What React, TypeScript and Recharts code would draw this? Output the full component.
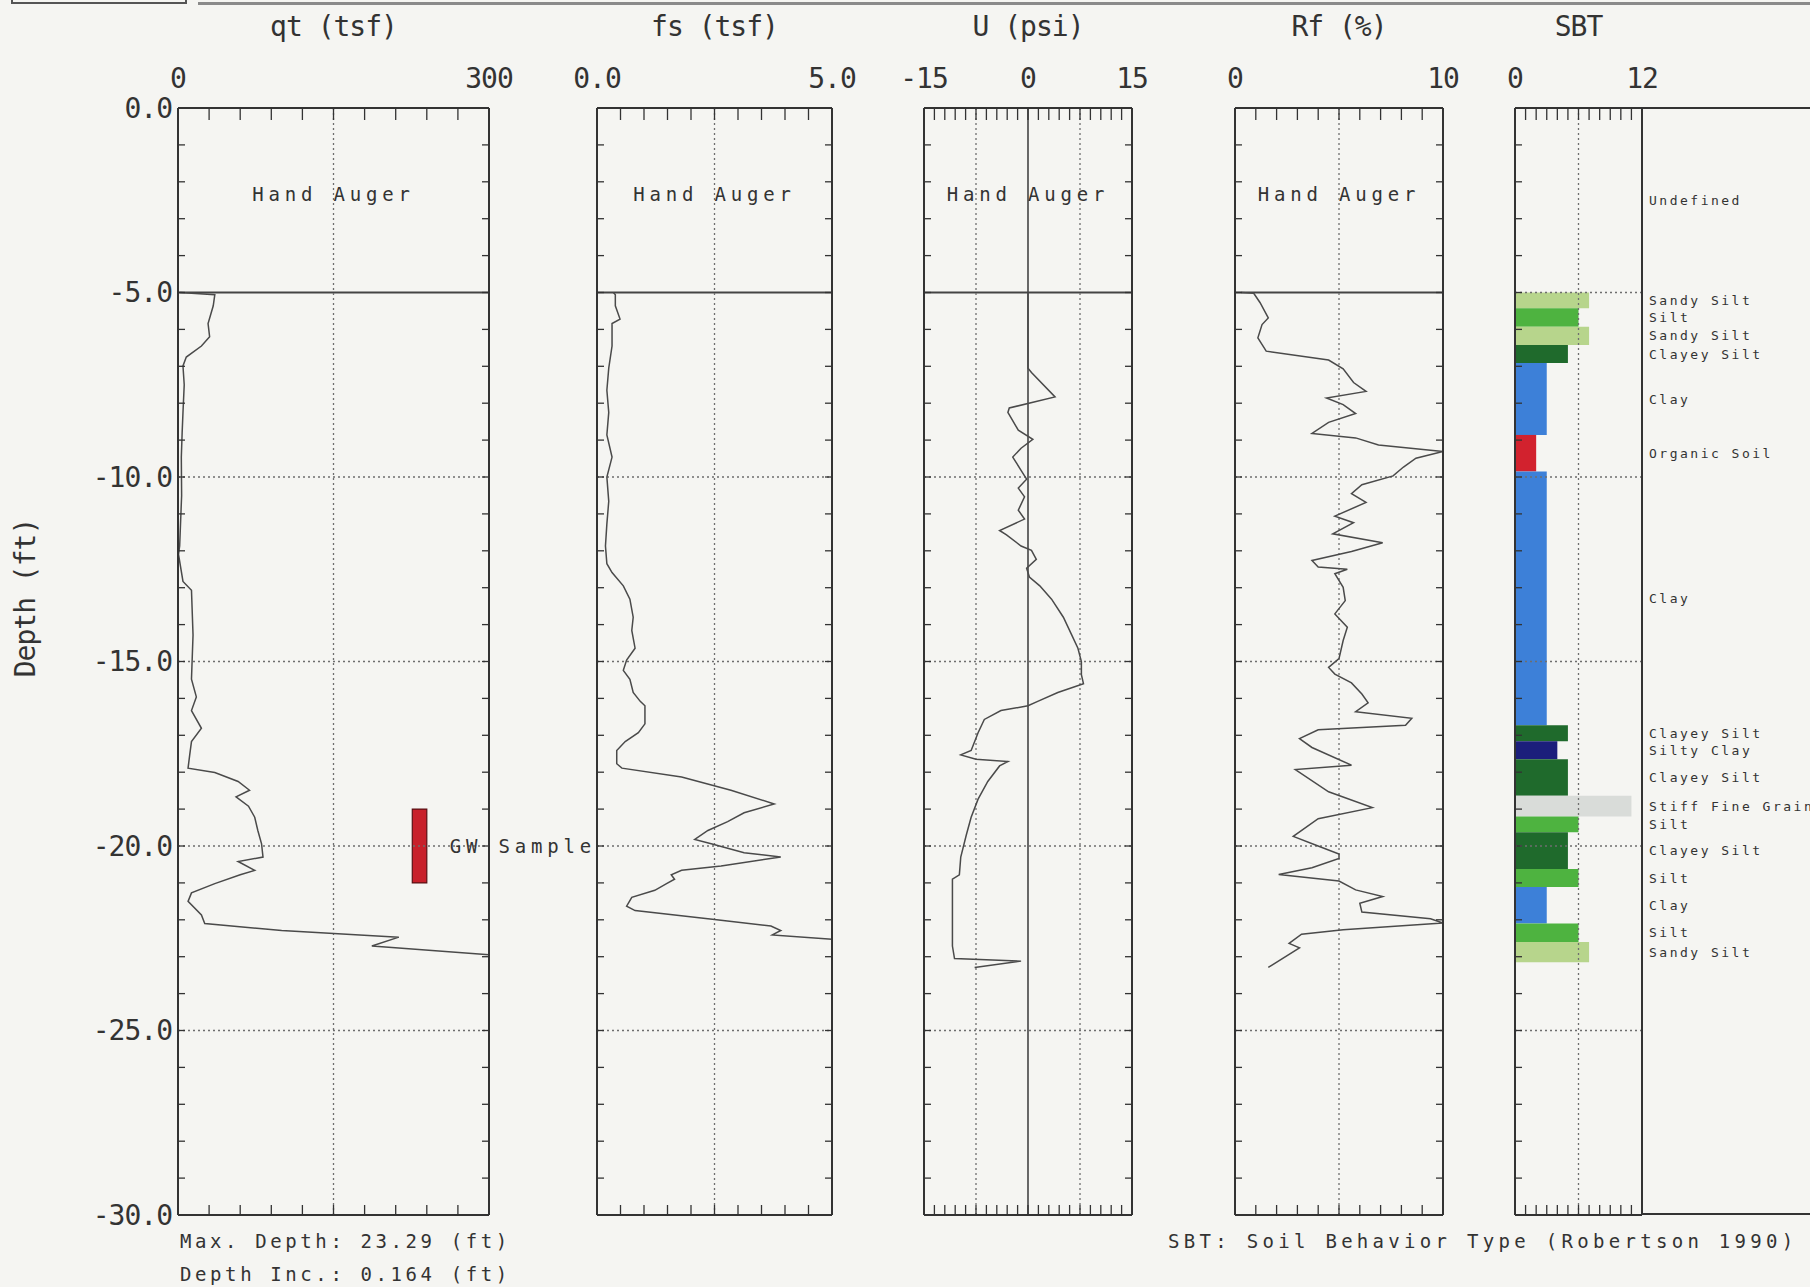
import React from 'react'
import { LineChart, Line, XAxis, YAxis, ReferenceLine, ReferenceArea } from 'recharts'

const FONT = '"DejaVu Sans Mono", "Liberation Mono", monospace'
const INK = '#333333'
const CURVE = '#4a4a4a'
const GRID = '#6e6e6e'
const PAPER = '#f5f5f2'

const CHART_H = 1240
const TOP_H = 108
const BOTTOM_H = 15
const BOTTOM_M = 10

// depth axis (ft), shared by all panels
const depthLabels = [0, -5, -10, -15, -20, -25, -30]
const depthGrid = [-10, -15, -20, -25]
const augerDepth = -5

// qt (tsf)
const qtDepth = [5.0, 5.06, 5.36, 5.84, 6.2, 6.45, 6.75, 6.99, 7.5, 8.25, 8.8, 9.46, 10.5, 11.87, 12.1, 12.83, 13.07, 14.28, 15.48, 15.96, 16.33, 16.81, 17.17, 17.53, 17.89, 18.01, 18.25, 18.49, 18.67, 18.92, 19.22, 19.58, 19.94, 20.3, 20.42, 20.66, 20.78, 21.02, 21.27, 21.5, 21.87, 22.1, 22.29, 22.47, 22.71, 22.95, 23.29]
const qtValue = [2, 35.5, 34, 29, 30.5, 22.6, 8, 4.8, 6, 4.8, 4, 3.2, 3.5, 1.6, 0.5, 4.8, 13, 14.5, 13, 17.7, 13, 22.6, 13, 11.3, 9.7, 35.5, 58, 69, 56, 68, 74, 77, 80.6, 82, 58, 74, 60, 35.5, 13, 9.7, 22.6, 25.8, 100, 213, 187, 300, 300]

// fs (tsf)
const fsDepth = [5.0, 5.06, 5.36, 5.72, 5.84, 6.45, 7.05, 7.65, 8.25, 8.86, 9.46, 10.0, 10.66, 11.27, 11.87, 12.35, 12.59, 12.95, 13.31, 13.8, 14.16, 14.64, 14.96, 15.24, 15.48, 15.84, 16.08, 16.2, 16.69, 16.93, 17.17, 17.41, 17.77, 17.89, 18.13, 18.49, 18.86, 19.1, 19.34, 19.58, 19.82, 19.94, 20.18, 20.3, 20.54, 20.66, 20.78, 20.9, 21.02, 21.2, 21.39, 21.63, 21.75, 21.99, 22.17, 22.29, 22.41, 22.53]
const fsValue = [0.35, 0.39, 0.39, 0.49, 0.32, 0.32, 0.25, 0.21, 0.25, 0.21, 0.32, 0.21, 0.25, 0.21, 0.18, 0.21, 0.32, 0.56, 0.7, 0.77, 0.74, 0.81, 0.63, 0.56, 0.7, 0.77, 0.92, 1.02, 1.02, 0.88, 0.6, 0.42, 0.42, 0.53, 1.8, 2.85, 3.77, 3.13, 2.78, 2.36, 2.08, 2.43, 3.13, 3.91, 2.64, 1.8, 1.58, 1.65, 1.48, 1.23, 0.74, 0.63, 0.81, 2.5, 3.7, 3.91, 3.73, 5.0]

// U (psi)
const uDepth = [5.0, 7.05, 7.17, 7.83, 8.13, 8.25, 8.73, 8.98, 9.22, 9.46, 9.82, 10.06, 10.3, 10.54, 10.9, 11.14, 11.45, 11.57, 11.87, 11.99, 12.23, 12.47, 12.71, 12.95, 13.31, 13.8, 14.28, 14.64, 15.0, 15.36, 15.6, 15.84, 16.08, 16.2, 16.33, 16.57, 16.93, 17.41, 17.53, 17.65, 17.71, 17.83, 18.25, 18.73, 19.22, 19.7, 20.3, 20.78, 20.9, 21.51, 22.71, 23.05, 23.12, 23.29]
const uValue = [0, 0, 0.5, 3.9, -2.7, -2.9, -1.4, 0.7, -1.0, -2.2, -1.0, -0.2, -1.4, -0.5, -1.4, -0.5, -4.1, -3.1, -1.0, 0.5, 1.2, -0.2, 0.2, 1.7, 3.4, 5.1, 6.3, 7.2, 7.7, 7.7, 8.0, 4.3, 1.4, 0, -3.9, -6.3, -7.2, -8.2, -9.7, -7.5, -2.9, -4.1, -5.8, -7.2, -8.2, -8.9, -9.7, -9.9, -10.9, -10.9, -10.9, -10.6, -1.0, -7.7]

// Rf (%)
const rfDepth = [5.0, 5.02, 5.27, 5.69, 5.87, 6.23, 6.59, 6.83, 7.07, 7.44, 7.68, 7.86, 8.04, 8.28, 8.52, 8.82, 8.94, 9.13, 9.31, 9.49, 9.73, 9.97, 10.21, 10.45, 10.69, 11.06, 11.24, 11.54, 11.78, 12.02, 12.26, 12.44, 12.5, 12.62, 12.99, 13.35, 13.71, 14.07, 14.43, 14.92, 15.16, 15.34, 15.58, 15.88, 16.12, 16.36, 16.54, 16.73, 16.85, 17.09, 17.33, 17.81, 17.93, 18.53, 18.96, 19.26, 19.74, 19.98, 20.22, 20.34, 20.59, 20.77, 20.95, 21.19, 21.37, 21.55, 21.79, 21.97, 22.09, 22.27, 22.39, 22.64, 22.76, 23.29]
const rfValue = [0.3, 0.9, 1.2, 1.6, 1.3, 1.1, 1.5, 4.5, 5.2, 5.7, 6.3, 4.4, 5.2, 5.8, 4.5, 3.7, 5.8, 6.9, 10, 8.7, 8.1, 7.6, 6.1, 5.6, 6.3, 4.8, 5.7, 4.7, 7.1, 5.6, 3.7, 4.0, 5.4, 4.8, 5.2, 5.3, 4.8, 5.4, 5.2, 5.0, 4.5, 4.8, 5.6, 6.1, 6.4, 5.8, 8.5, 8.2, 4.0, 3.1, 3.7, 5.6, 2.9, 4.5, 6.6, 4.0, 2.8, 3.9, 5.0, 5.0, 3.7, 2.1, 5.0, 5.8, 7.1, 6.0, 6.1, 9.4, 10, 5.2, 3.2, 2.6, 3.1, 1.6]

// SBT layers (Robertson 1990 zones)
const sbtName = ['Undefined', 'Sandy Silt', 'Silt', 'Sandy Silt', 'Clayey Silt', 'Clay', 'Organic Soil', 'Clay', 'Clayey Silt', 'Silty Clay', 'Clayey Silt', 'Stiff Fine Grained', 'Silt', 'Clayey Silt', 'Silt', 'Clay', 'Silt', 'Sandy Silt']
const sbtTop = [0, 5.0, 5.43, 5.93, 6.42, 6.91, 8.86, 9.85, 16.73, 17.16, 17.65, 18.64, 19.2, 19.63, 20.62, 21.11, 22.1, 22.6]
const sbtBottom = [5.0, 5.43, 5.93, 6.42, 6.91, 8.86, 9.85, 16.73, 17.16, 17.65, 18.64, 19.2, 19.63, 20.62, 21.11, 22.1, 22.6, 23.15]
const sbtZone = [0, 7, 6, 7, 5, 3, 2, 3, 5, 4, 5, 11, 6, 5, 6, 3, 6, 7]

const sbtColor: Record<string, string> = {
  'Sandy Silt': '#b7d58c',
  Silt: '#4eb340',
  'Clayey Silt': '#1f6a2c',
  Clay: '#3d80d8',
  'Organic Soil': '#d2222e',
  'Silty Clay': '#1b1e7b',
  'Stiff Fine Grained': '#d9dcd9',
}

// groundwater sample marker (qt panel)
const gwTop = 19
const gwBottom = 21
const gwFrom = 226
const gwTo = 240

const range = (a: number, b: number, step: number) => {
  const out: number[] = []
  for (let i = 0; a + i * step <= b + 1e-9; i++) out.push(+(a + i * step).toFixed(3))
  return out
}
const depthTicks = range(-30, 0, 1)

const rows = (depth: number[], value: number[]) => depth.map((d, i) => ({ depth: -d, v: value[i] }))

const axisText = { fill: INK, fontSize: 28, fontFamily: FONT, letterSpacing: -1 }
const smallText = { fill: INK, fontSize: 19, fontFamily: FONT, letterSpacing: 4.8 }

type PanelProps = {
  plotLeft: number
  plotWidth: number
  leftW?: number
  rightW?: number
  title: string
  domain: [number, number]
  ticks: number[]
  labels: number[]
  digits: number
  gridX: number[]
  solidX?: number[]
  data?: { depth: number; v: number }[]
  depthAxis?: boolean
  auger?: boolean
  sbt?: boolean
  children?: React.ReactNode
}

function Panel({ plotLeft, plotWidth, leftW = 40, rightW = 40, title, domain, ticks, labels, digits, gridX, solidX = [], data = [], depthAxis = false, auger = true, sbt = false, children }: PanelProps) {
  const fmtTop = (v: number) => (labels.some((l) => Math.abs(l - v) < 1e-6) ? v.toFixed(digits) : '')
  const fmtDepth = (v: number) => (depthAxis && depthLabels.includes(v) ? v.toFixed(1) : '')
  return (
    <div style={{ position: 'absolute', left: plotLeft - leftW, top: 0 }}>
      <LineChart
        width={leftW + plotWidth + rightW}
        height={CHART_H}
        layout="vertical"
        data={data}
        margin={{ top: 0, right: 0, bottom: BOTTOM_M, left: 0 }}
      >
        <XAxis
          type="number"
          orientation="top"
          domain={domain}
          allowDataOverflow
          ticks={ticks}
          interval={0}
          height={TOP_H}
          tickSize={-12}
          tickMargin={32}
          tickFormatter={fmtTop}
          axisLine={{ stroke: INK, strokeWidth: 2 }}
          tickLine={{ stroke: INK, strokeWidth: 1.3 }}
          tick={axisText}
          label={{ value: title, position: 'insideTop', offset: 16, ...axisText }}
        />
        <XAxis
          xAxisId="b"
          type="number"
          orientation="bottom"
          domain={domain}
          allowDataOverflow
          ticks={ticks}
          interval={0}
          height={BOTTOM_H}
          tickSize={-10}
          tickFormatter={() => ''}
          axisLine={{ stroke: INK, strokeWidth: 2 }}
          tickLine={{ stroke: INK, strokeWidth: 1.3 }}
        />
        <YAxis
          type="number"
          dataKey="depth"
          domain={[-30, 0]}
          reversed
          allowDataOverflow
          ticks={depthTicks}
          interval={0}
          width={leftW}
          tickSize={-7}
          tickMargin={13}
          tickFormatter={fmtDepth}
          axisLine={{ stroke: INK, strokeWidth: 2 }}
          tickLine={{ stroke: INK, strokeWidth: 1.3 }}
          tick={axisText}
        />
        {!sbt && (
          <YAxis
            yAxisId="r"
            orientation="right"
            type="number"
            dataKey="depth"
            domain={[-30, 0]}
            reversed
            allowDataOverflow
            ticks={depthTicks}
            interval={0}
            width={rightW}
            tickSize={-7}
            tickFormatter={() => ''}
            axisLine={{ stroke: INK, strokeWidth: 2 }}
            tickLine={{ stroke: INK, strokeWidth: 1.3 }}
          />
        )}
        {depthGrid.map((y) => (
          <ReferenceLine key={'gy' + y} y={y} stroke={GRID} strokeDasharray="2 3" strokeWidth={1.3} />
        ))}
        <ReferenceLine
          y={augerDepth}
          stroke={sbt ? GRID : '#444'}
          strokeDasharray={sbt ? '2 3' : undefined}
          strokeWidth={sbt ? 1.3 : 1.8}
        />
        {gridX.map((x) => (
          <ReferenceLine key={'gx' + x} x={x} stroke={GRID} strokeDasharray="2 3" strokeWidth={1.3} />
        ))}
        {solidX.map((x) => (
          <ReferenceLine key={'sx' + x} x={x} stroke="#444" strokeWidth={1.6} />
        ))}
        {auger && (
          <ReferenceArea
            y1={0}
            y2={augerDepth}
            fill="none"
            stroke="none"
            label={{ value: 'Hand Auger', position: 'insideTop', offset: 80, ...smallText }}
          />
        )}
        {children}
        {!sbt && (
          <Line dataKey="v" stroke={CURVE} strokeWidth={1.5} dot={false} isAnimationActive={false} />
        )}
      </LineChart>
    </div>
  )
}

const sbtMid = sbtTop.map((t, i) => -(t + sbtBottom[i]) / 2)
const sbtLabel = (v: number) => {
  const i = sbtMid.findIndex((m) => Math.abs(m - v) < 1e-6)
  return i >= 0 ? sbtName[i] : ''
}

const note = { position: 'absolute' as const, fontSize: 19, lineHeight: '22px', letterSpacing: 3.6, whiteSpace: 'nowrap' as const }

export default function App() {
  return (
    <div
      style={{
        position: 'absolute',
        left: 0,
        top: 0,
        width: 1810,
        height: 1287,
        background: PAPER,
        overflow: 'hidden',
        fontFamily: FONT,
        color: INK,
      }}
    >
      <div style={{ position: 'absolute', left: 11, top: -8, width: 172, height: 8, border: '2px solid #555' }} />
      <div style={{ position: 'absolute', left: 198, top: 2, width: 1612, height: 3, background: '#8a8a8a' }} />

      <Panel
        plotLeft={178}
        plotWidth={311}
        leftW={90}
        rightW={130}
        title="qt (tsf)"
        domain={[0, 300]}
        ticks={range(0, 300, 30)}
        labels={[0, 300]}
        digits={0}
        gridX={[150]}
        data={rows(qtDepth, qtValue)}
        depthAxis
      >
        <ReferenceArea
          x1={gwFrom}
          x2={gwTo}
          y1={-gwTop}
          y2={-gwBottom}
          fill="#c8202b"
          fillOpacity={1}
          stroke="#5a1015"
          strokeWidth={1.2}
          label={{ value: 'GW Sample', position: 'right', offset: 23, ...smallText }}
        />
      </Panel>

      <Panel
        plotLeft={597}
        plotWidth={235}
        title="fs (tsf)"
        domain={[0, 5]}
        ticks={range(0, 5, 0.5)}
        labels={[0, 5]}
        digits={1}
        gridX={[2.5]}
        data={rows(fsDepth, fsValue)}
      />

      <Panel
        plotLeft={924}
        plotWidth={208}
        title="U (psi)"
        domain={[-15, 15]}
        ticks={range(-15, 15, 1.5)}
        labels={[-15, 0, 15]}
        digits={0}
        gridX={[-7.5, 7.5]}
        solidX={[0]}
        data={rows(uDepth, uValue)}
      />

      <Panel
        plotLeft={1235}
        plotWidth={208}
        title="Rf (%)"
        domain={[0, 10]}
        ticks={range(0, 10, 1)}
        labels={[0, 10]}
        digits={0}
        gridX={[5]}
        data={rows(rfDepth, rfValue)}
      />

      <div
        style={{
          position: 'absolute',
          left: 1642,
          top: 107,
          width: 170,
          height: 1104,
          borderTop: `2px solid ${INK}`,
          borderBottom: `2px solid ${INK}`,
        }}
      />
      <Panel
        plotLeft={1515}
        plotWidth={127}
        rightW={170}
        title="SBT"
        domain={[0, 12]}
        ticks={range(0, 12, 1)}
        labels={[0, 12]}
        digits={0}
        gridX={[6]}
        auger={false}
        sbt
      >
        {sbtName.map((name, i) =>
          sbtZone[i] > 0 ? (
            <ReferenceArea
              key={'sbt' + i}
              x1={0}
              x2={sbtZone[i]}
              y1={-sbtTop[i]}
              y2={-sbtBottom[i]}
              fill={sbtColor[name]}
              fillOpacity={1}
              stroke="none"
            />
          ) : null
        )}
        <YAxis
          yAxisId="r"
          orientation="right"
          type="number"
          dataKey="depth"
          domain={[-30, 0]}
          reversed
          allowDataOverflow
          ticks={sbtMid}
          interval={0}
          width={170}
          tickLine={false}
          tickSize={0}
          tickMargin={7}
          tickFormatter={sbtLabel}
          axisLine={{ stroke: INK, strokeWidth: 2 }}
          tick={{ fill: INK, fontSize: 13, fontFamily: FONT, letterSpacing: 2.5 }}
        />
      </Panel>

      <div
        style={{
          position: 'absolute',
          left: 25,
          top: 598,
          fontSize: 28,
          letterSpacing: -1,
          whiteSpace: 'nowrap',
          transform: 'translate(-50%, -50%) rotate(-90deg)',
        }}
      >
        Depth (ft)
      </div>

      <div style={{ ...note, left: 180, top: 1230 }}>Max. Depth: 23.29 (ft)</div>
      <div style={{ ...note, left: 180, top: 1263 }}>Depth Inc.: 0.164 (ft)</div>
      <div style={{ ...note, left: 1168, top: 1230, letterSpacing: 4.3 }}>SBT: Soil Behavior Type (Robertson 1990)</div>
    </div>
  )
}
